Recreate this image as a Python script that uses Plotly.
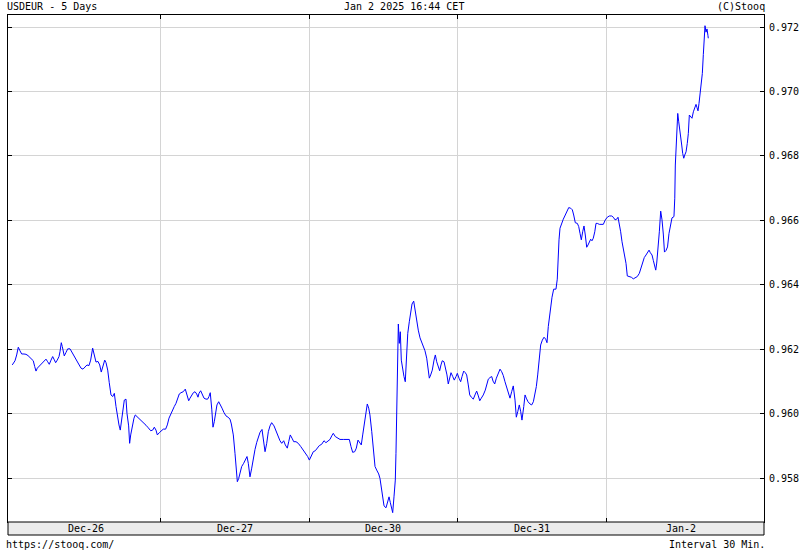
import plotly.graph_objects as go

# ---- data (hours since start of Dec-26 trading session, trading days only) ----
hours = [0.11,0.55,0.82,1.08,1.35,1.63,2.00,2.32,2.65,2.97,3.34,3.50,3.73,3.94,4.15,4.47,4.91,5.28,5.55,5.82,
6.08,6.36,6.63,6.84,7.11,7.37,7.65,7.81,8.02,8.18,8.50,8.78,9.06,9.43,9.70,9.96,10.28,10.61,10.93,11.20,
11.52,11.84,12.17,12.49,12.76,13.08,13.35,13.62,13.94,14.22,14.47,14.74,15.03,15.24,15.51,15.76,16.04,16.32,16.58,16.85,
17.06,17.33,17.54,17.77,17.98,18.19,18.46,18.62,18.89,19.05,19.22,19.48,19.75,19.96,20.23,20.60,21.04,21.37,21.69,22.06,
22.45,22.77,23.03,23.30,23.52,23.84,24.16,24.48,24.86,25.13,25.40,25.72,26.00,26.25,26.53,26.81,27.06,27.34,27.70,28.03,
28.31,28.58,28.79,29.06,29.33,29.60,29.87,30.08,30.24,30.51,30.78,31.05,31.37,31.64,31.85,32.06,32.30,32.50,32.71,32.94,
33.14,33.42,33.64,33.96,34.28,34.60,34.92,35.25,35.46,35.78,36.05,36.26,36.43,36.65,36.86,37.13,37.45,37.77,37.99,38.20,
38.47,38.75,39.00,39.28,39.56,39.81,40.09,40.41,40.61,40.90,41.17,41.43,41.70,41.97,42.35,42.67,42.99,43.31,43.59,43.91,
44.17,44.49,44.72,44.97,45.25,45.53,45.90,46.26,46.66,47.07,47.46,47.78,48.05,48.37,48.69,49.01,49.33,49.66,50.04,50.41,
50.73,51.06,51.38,51.66,51.91,52.23,52.56,53.00,53.53,54.08,54.50,54.77,55.04,55.37,55.63,55.90,56.17,56.43,56.66,56.87,
57.15,57.40,57.63,57.83,58.12,58.37,58.65,58.92,59.24,59.45,59.67,59.89,60.10,60.42,60.63,60.91,61.12,61.34,61.50,61.71,
61.92,62.03,62.14,62.30,62.41,62.57,62.73,62.89,63.12,63.32,63.53,63.70,63.93,64.18,64.41,64.62,64.89,65.10,65.38,65.63,
65.91,66.18,66.44,66.71,66.99,67.20,67.41,67.63,67.89,68.17,68.38,68.60,68.86,69.08,69.29,69.50,69.78,69.99,70.26,70.47,
70.70,70.91,71.19,71.44,71.72,71.93,72.20,72.47,72.69,72.96,73.22,73.44,73.70,73.93,74.19,74.51,74.78,75.05,75.32,75.55,
75.80,76.12,76.44,76.72,76.93,77.21,77.48,77.69,77.96,78.23,78.50,78.82,79.09,79.35,79.62,79.90,80.16,80.43,80.70,80.96,
81.24,81.45,81.68,81.93,82.16,82.36,82.65,82.86,83.06,83.34,83.66,83.93,84.20,84.47,84.68,84.90,85.16,85.38,85.65,85.92,
86.19,86.40,86.61,86.84,87.00,87.21,87.48,87.85,88.06,88.17,88.34,88.50,88.71,89.03,89.35,89.67,89.91,90.23,90.49,90.71,
90.97,91.30,91.52,91.73,91.94,92.16,92.37,92.58,92.81,93.02,93.23,93.45,93.66,93.87,94.11,94.31,94.52,94.84,95.49,95.81,
96.13,96.46,96.84,97.11,97.38,97.65,97.86,98.07,98.29,98.51,98.72,98.94,99.15,99.36,99.68,100.01,100.33,100.65,100.97,101.30,
101.58,101.85,102.10,102.38,102.66,102.87,103.08,103.35,103.56,103.78,103.95,104.11,104.32,104.53,104.75,104.96,105.17,105.36,105.61,105.85,
106.09,106.33,106.57,106.89,107.02,107.11,107.27,107.38,107.50,107.66,107.82,107.98,108.14,108.30,108.47,108.63,108.84,109.04,109.21,109.37,
109.59,109.80,110.02,110.24,110.45,110.61,110.77,110.93,111.14,111.30,111.47,111.63,111.74,111.90,112.06,112.22,112.38,112.43]

usdeur = [0.96152,0.96165,0.96183,0.96207,0.96196,0.96186,0.96186,0.96185,0.96181,0.96175,
0.96170,0.96165,0.96147,0.96133,0.96142,0.96149,0.96156,0.96164,0.96170,0.96162,
0.96154,0.96167,0.96178,0.96170,0.96159,0.96167,0.96178,0.96193,0.96221,0.96209,
0.96180,0.96191,0.96202,0.96202,0.96193,0.96180,0.96170,0.96162,0.96152,0.96142,
0.96139,0.96147,0.96152,0.96150,0.96167,0.96204,0.96183,0.96161,0.96163,0.96152,
0.96130,0.96149,0.96167,0.96159,0.96136,0.96097,0.96059,0.96054,0.96064,0.96023,
0.95992,0.95966,0.95950,0.95981,0.96023,0.96043,0.96046,0.96002,0.95963,0.95909,
0.95935,0.95963,0.95987,0.95997,0.95992,0.95987,0.95979,0.95973,0.95965,0.95957,
0.95948,0.95950,0.95959,0.95950,0.95935,0.95942,0.95948,0.95953,0.95953,0.95966,
0.95987,0.96002,0.96012,0.96023,0.96033,0.96049,0.96062,0.96066,0.96069,0.96077,
0.96062,0.96041,0.96049,0.96059,0.96066,0.96069,0.96062,0.96052,0.96064,0.96072,
0.96059,0.96049,0.96046,0.96046,0.96054,0.96066,0.96015,0.95959,0.95976,0.96012,
0.96028,0.96038,0.96031,0.96018,0.96004,0.95994,0.95990,0.95984,0.95969,0.95935,
0.95878,0.95826,0.95790,0.95800,0.95821,0.95837,0.95847,0.95859,0.95868,0.95847,
0.95805,0.95832,0.95863,0.95890,0.95912,0.95930,0.95943,0.95952,0.95919,0.95883,
0.95909,0.95945,0.95963,0.95973,0.95963,0.95948,0.95930,0.95917,0.95909,0.95917,
0.95904,0.95894,0.95914,0.95935,0.95925,0.95914,0.95914,0.95909,0.95899,0.95888,
0.95878,0.95868,0.95857,0.95873,0.95883,0.95886,0.95894,0.95902,0.95906,0.95917,
0.95911,0.95916,0.95921,0.95932,0.95940,0.95930,0.95925,0.95921,0.95921,0.95921,
0.95921,0.95899,0.95881,0.95883,0.95894,0.95919,0.95911,0.95904,0.95935,0.95961,
0.95997,0.96031,0.96018,0.95997,0.95945,0.95894,0.95837,0.95826,0.95814,0.95800,
0.95770,0.95733,0.95715,0.95709,0.95723,0.95743,0.95725,0.95704,0.95694,0.95743,
0.95795,0.95878,0.96043,0.96198,0.96279,0.96219,0.96255,0.96167,0.96131,0.96116,
0.96100,0.96167,0.96250,0.96286,0.96322,0.96341,0.96350,0.96322,0.96291,0.96260,
0.96236,0.96222,0.96210,0.96196,0.96173,0.96139,0.96111,0.96121,0.96136,0.96167,
0.96183,0.96162,0.96145,0.96134,0.96152,0.96165,0.96162,0.96147,0.96121,0.96093,
0.96111,0.96128,0.96116,0.96105,0.96116,0.96126,0.96111,0.96100,0.96116,0.96133,
0.96128,0.96121,0.96090,0.96059,0.96052,0.96046,0.96059,0.96071,0.96056,0.96041,
0.96049,0.96059,0.96074,0.96090,0.96108,0.96113,0.96116,0.96102,0.96093,0.96111,
0.96126,0.96139,0.96131,0.96119,0.96100,0.96083,0.96069,0.96049,0.96069,0.96087,
0.96043,0.95990,0.96007,0.96028,0.96007,0.95981,0.96023,0.96059,0.96049,0.96038,
0.96031,0.96028,0.96038,0.96059,0.96085,0.96121,0.96167,0.96214,0.96229,0.96238,
0.96232,0.96221,0.96271,0.96312,0.96335,0.96362,0.96387,0.96387,0.96418,0.96483,
0.96540,0.96576,0.96589,0.96604,0.96617,0.96629,0.96640,0.96638,0.96633,0.96617,
0.96593,0.96591,0.96581,0.96560,0.96540,0.96565,0.96583,0.96555,0.96517,0.96524,
0.96534,0.96542,0.96537,0.96545,0.96565,0.96591,0.96591,0.96588,0.96588,0.96602,
0.96610,0.96614,0.96614,0.96610,0.96602,0.96604,0.96610,0.96591,0.96565,0.96534,
0.96514,0.96493,0.96467,0.96428,0.96426,0.96424,0.96419,0.96422,0.96426,0.96436,
0.96452,0.96469,0.96485,0.96493,0.96500,0.96508,0.96500,0.96493,0.96476,0.96459,
0.96446,0.96468,0.96508,0.96565,0.96629,0.96602,0.96558,0.96502,0.96507,0.96518,
0.96560,0.96589,0.96608,0.96612,0.96669,0.96772,0.96824,0.96881,0.96932,0.96906,
0.96886,0.96865,0.96834,0.96808,0.96793,0.96803,0.96813,0.96839,0.96870,0.96927,
0.96922,0.96917,0.96937,0.96953,0.96960,0.96950,0.96940,0.96963,0.96994,0.97015,
0.97056,0.97115,0.97175,0.97204,0.97184,0.97194,0.97173,0.97165]

assert len(hours) == len(usdeur), (len(hours), len(usdeur))

day_labels = ["Dec-26", "Dec-27", "Dec-30", "Dec-31", "Jan-2"]
day_centers = [12, 36, 60, 84, 108]
day_bounds = [24, 48, 72, 96]
y_ticks = [0.958, 0.960, 0.962, 0.964, 0.966, 0.968, 0.970, 0.972]

title_left = "USDEUR - 5 Days"
title_mid = "Jan 2 2025 16:44 CET"
title_right = "(C)Stooq"
foot_left = "https://stooq.com/"
foot_right = "Interval 30 Min."

FONT = dict(family="DejaVu Sans Mono", size=10, color="black")

# plot area in pixels: x 8..764, y 15..522
L, R, T, B = 8, 764, 15, 522
W, H = 800, 550
PW, PH = R - L, B - T

def px(p):
    return (p - L) / PW

def py(p):
    return (B - p) / PH

fig = go.Figure()
fig.add_trace(go.Scatter(x=hours, y=usdeur, mode="lines",
                         line=dict(color="#0000ff", width=1), hoverinfo="skip"))

fig.update_layout(
    width=W, height=H,
    margin=dict(l=L, r=W - R, t=T, b=H - B, autoexpand=False),
    paper_bgcolor="white", plot_bgcolor="white",
    showlegend=False,
    font=FONT,
    xaxis=dict(range=[-0.58, 121.42], tickvals=day_bounds, ticktext=[""] * len(day_bounds),
               showgrid=True, gridcolor="#d4d4d4", gridwidth=1,
               ticks="inside", ticklen=4, tickcolor="black", tickwidth=1,
               showline=True, linecolor="black", linewidth=1, mirror="ticks",
               zeroline=False, automargin=False, fixedrange=True),
    yaxis=dict(range=[0.95665, 0.972372], tickvals=y_ticks, tickformat=".3f",
               side="right", showgrid=True, gridcolor="#d4d4d4", gridwidth=1,
               ticks="inside", ticklen=4, tickcolor="black", tickwidth=1,
               showline=True, linecolor="black", linewidth=1, mirror="ticks",
               ticklabelstandoff=2,
               zeroline=False, automargin=False, tickfont=FONT, fixedrange=True),
)

# date band under the plot
fig.add_shape(type="rect", xref="paper", yref="paper",
              x0=0, x1=1, y0=py(535), y1=0,
              fillcolor="#ebebeb", line=dict(color="black", width=1), layer="above")

for lab, c in zip(day_labels, day_centers):
    fig.add_annotation(x=c, xref="x", y=py(528.5), yref="paper", text=lab,
                       showarrow=False, xanchor="center", yanchor="middle", font=FONT)

fig.add_annotation(x=px(5), xref="paper", y=py(7), yref="paper", text=title_left,
                   showarrow=False, xanchor="left", yanchor="middle", font=FONT)
fig.add_annotation(x=px(404), xref="paper", y=py(7), yref="paper", text=title_mid,
                   showarrow=False, xanchor="center", yanchor="middle", font=FONT)
fig.add_annotation(x=px(767), xref="paper", y=py(7), yref="paper", text=title_right,
                   showarrow=False, xanchor="right", yanchor="middle", font=FONT)
fig.add_annotation(x=px(4), xref="paper", y=py(544), yref="paper", text=foot_left,
                   showarrow=False, xanchor="left", yanchor="middle", font=FONT)
fig.add_annotation(x=px(767), xref="paper", y=py(544), yref="paper", text=foot_right,
                   showarrow=False, xanchor="right", yanchor="middle", font=FONT)

fig.write_html("out.html", config={"displayModeBar": False},
               post_script="document.body.style.margin='0';document.body.style.overflow='hidden';")
